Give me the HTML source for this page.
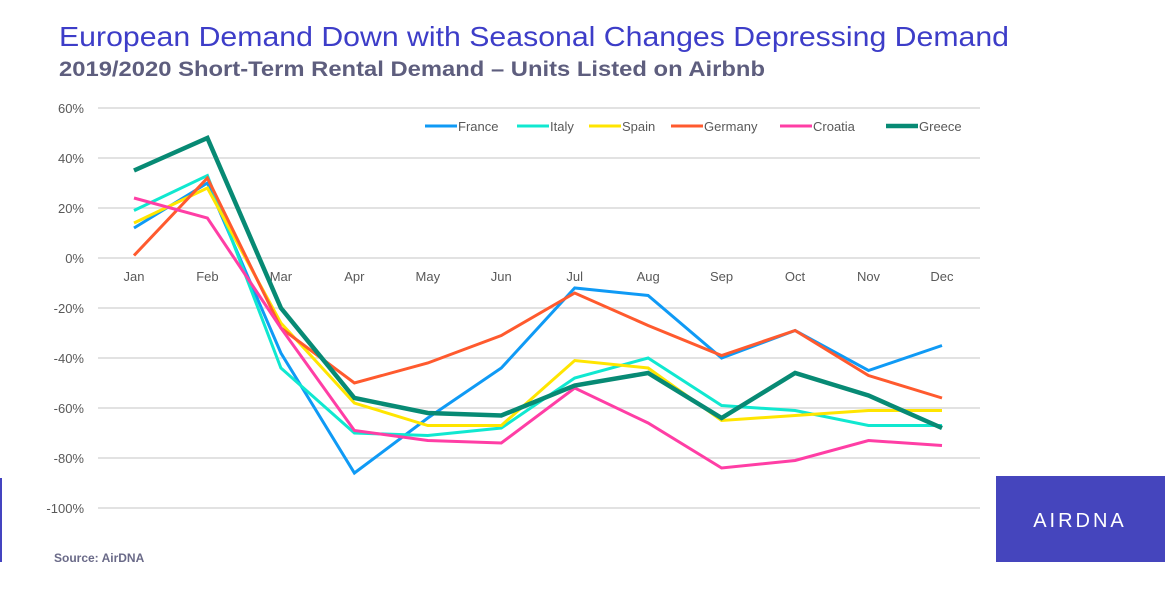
<!DOCTYPE html>
<html><head><meta charset="utf-8"><style>
body{margin:0;background:#fff;width:1165px;height:606px;overflow:hidden;font-family:"Liberation Sans",sans-serif;}
</style></head><body>
<svg id="chart" width="1165" height="606" xmlns="http://www.w3.org/2000/svg">
<text x="59" y="46" font-size="28" fill="#3d3dc8" textLength="950" lengthAdjust="spacingAndGlyphs">European Demand Down with Seasonal Changes Depressing Demand</text>
<text x="59" y="76" font-size="21" font-weight="bold" fill="#5e5e7e" textLength="706" lengthAdjust="spacingAndGlyphs">2019/2020 Short-Term Rental Demand – Units Listed on Airbnb</text>
<g id="grid"></g><g id="lines"></g><g id="legend"></g>
<rect x="0" y="478" width="2" height="84" fill="#4444c0"/>
<text x="54" y="562" font-size="12" font-weight="bold" fill="#6a6a88">Source: AirDNA</text>
<rect x="996" y="476" width="169" height="86" fill="#4545bd"/>
<text x="1080" y="527" font-size="20" fill="#fff" text-anchor="middle" letter-spacing="3">AIRDNA</text>
</svg>
<script>
const months=["Jan","Feb","Mar","Apr","May","Jun","Jul","Aug","Sep","Oct","Nov","Dec"];
const yTicks=[60,40,20,0,-20,-40,-60,-80,-100];
const seriesNames=["France","Italy","Spain","Germany","Croatia","Greece"];
const seriesColors=["#0f9af5","#10e8d0","#ffe500","#ff5a2e","#ff3ea5","#078a74"];
const seriesWidths=[3,3,3,3,3,4.5];
const france=[12,30,-38,-86,-64,-44,-12,-15,-40,-29,-45,-35];
const italy=[19,33,-44,-70,-71,-68,-48,-40,-59,-61,-67,-67];
const spain=[14,28,-26,-58,-67,-67,-41,-44,-65,-63,-61,-61];
const germany=[1,32,-28,-50,-42,-31,-14,-27,-39,-29,-47,-56];
const croatia=[24,16,-28,-69,-73,-74,-52,-66,-84,-81,-73,-75];
const greece=[35,48,-20,-56,-62,-63,-51,-46,-64,-46,-55,-68];
const allSeries=[france,italy,spain,germany,croatia,greece];
const NS="http://www.w3.org/2000/svg";
function yS(v){return 258-(v)*2.5;}
function xS(i){return 134+i*73.45;}
function mk(t,a,p){const e=document.createElementNS(NS,t);for(const k in a)e.setAttribute(k,a[k]);p.appendChild(e);return e;}
const grid=document.getElementById('grid');
yTicks.forEach(t=>{
 const l=mk('line',{x1:98,x2:980,y1:yS(t),y2:yS(t),stroke:'#d9d9d9','stroke-width':1.5},grid);
 
 
 const tx=mk('text',{x:84,y:yS(t)+5,'font-size':13,fill:'#595959','text-anchor':'end'},grid);
 tx.textContent=t+'%';
 
 
});
months.forEach((m,i)=>{
 const tx=mk('text',{x:xS(i),y:281,'font-size':13,fill:'#595959','text-anchor':'middle'},grid);
 tx.textContent=m;
 
 
});
const lines=document.getElementById('lines');
allSeries.forEach((s,k)=>{
 const pts=s.map((v,i)=>xS(i).toFixed(1)+','+yS(v).toFixed(1)).join(' ');
 const p=mk('polyline',{points:pts,fill:'none',stroke:seriesColors[k],'stroke-width':seriesWidths[k],'stroke-linejoin':'miter'},lines);
 
 
});
const leg=document.getElementById('legend');
const legX=[425,517,589,671,780,886];
seriesNames.forEach((n,k)=>{
 const x=legX[k];
 const l=mk('line',{x1:x,x2:x+32,y1:126,y2:126,stroke:seriesColors[k],'stroke-width':seriesWidths[k]},leg);
 
 
 const t=mk('text',{x:x+33,y:131,'font-size':13,fill:'#595959'},leg);
 t.textContent=n;
 
 
});
</script>
</body></html>
